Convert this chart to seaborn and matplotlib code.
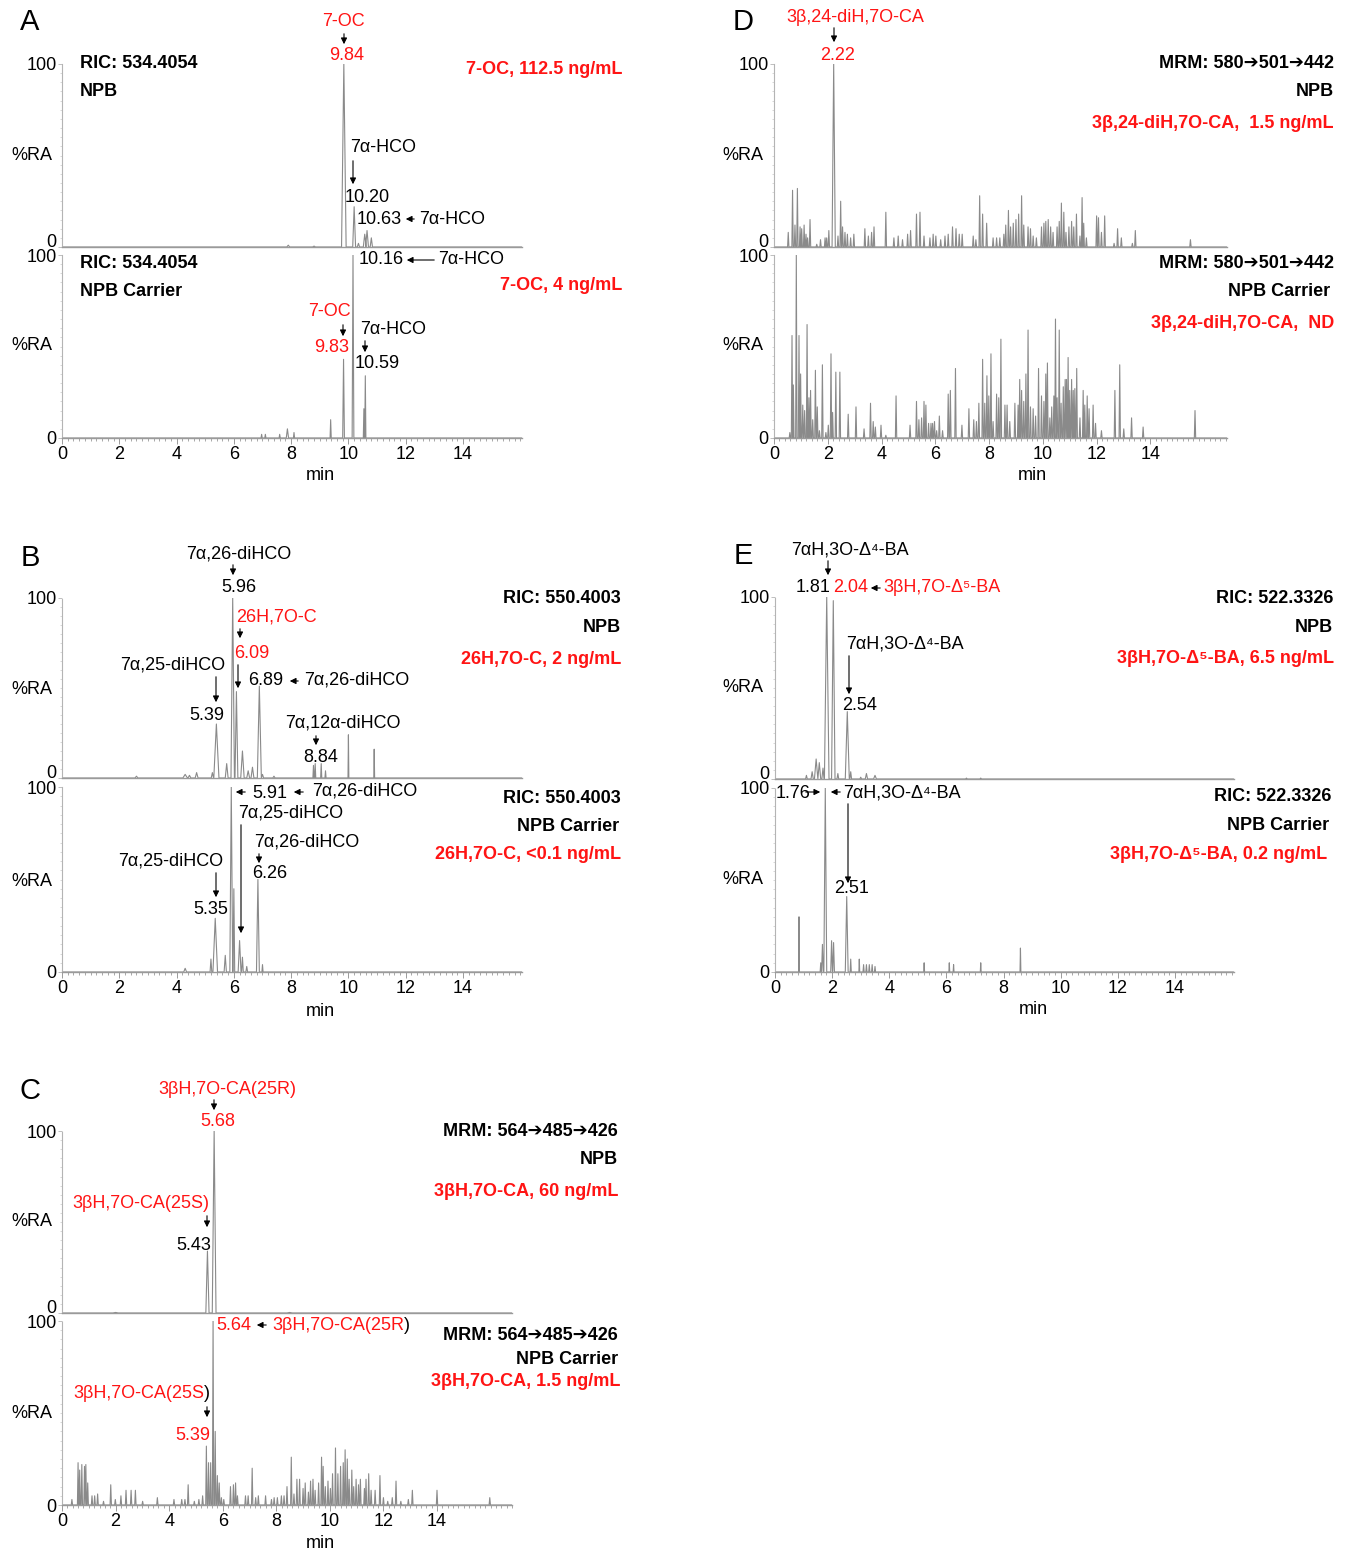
import pandas as pd
import seaborn as sns
import matplotlib.pyplot as plt
from matplotlib.patches import FancyArrowPatch
from matplotlib.ticker import MultipleLocator

W, H = 1349, 1551
RED = '#ff1414'
GREY = '#8a8a8a'
FS = 13

# peak tables: (retention time / min, %RA[, half width / min])
a_npb = [(7.9, 1, 0.05), (8.8, 0.5, 0.05), (9.84, 100, 0.08), (10.20, 22, 0.05),
         (10.35, 2, 0.04), (10.57, 7, 0.05), (10.65, 9, 0.05), (10.8, 5, 0.04)]
a_carrier = [(6.97, 2, 0.02), (7.1, 2, 0.02), (7.6, 2, 0.02), (7.87, 5, 0.04),
             (8.1, 3, 0.02), (9.38, 10, 0.02), (9.83, 43, 0.03), (10.16, 100, 0.03),
             (10.54, 16, 0.02), (10.59, 34, 0.02)]

b_npb = [(2.6, 1, 0.05), (4.3, 2, 0.08), (4.45, 1.5, 0.05), (4.7, 3, 0.05),
         (5.25, 3, 0.04), (5.39, 30, 0.09), (5.75, 8, 0.05), (5.96, 100, 0.06),
         (6.09, 48, 0.05), (6.3, 15, 0.06), (6.5, 4, 0.05), (6.65, 6, 0.05),
         (6.89, 51, 0.07), (7.0, 2, 0.04), (7.4, 1, 0.04), (8.78, 7, 0.02),
         (8.84, 8, 0.02), (9.05, 8, 0.02), (9.2, 4, 0.02), (10.0, 24, 0.015),
         (10.9, 16, 0.015)]
b_carrier = [(4.3, 2, 0.05), (5.2, 7, 0.03), (5.35, 29, 0.08), (5.7, 9, 0.04),
             (5.91, 100, 0.05), (6.0, 45, 0.03), (6.2, 17, 0.05), (6.3, 8, 0.03),
             (6.45, 3, 0.03), (6.84, 50, 0.05), (7.0, 4, 0.02)]

c_npb = [(2.0, 0.3, 0.1), (5.43, 34, 0.06), (5.68, 100, 0.07), (8.5, 0.3, 0.1)]
c_carrier = [(0.37, 3), (0.6, 23), (0.66, 19), (0.74, 22), (0.84, 21), (0.89, 22),
             (0.96, 12), (1.12, 5), (1.22, 5), (1.33, 6), (1.55, 2), (1.82, 11),
             (1.99, 3), (2.2, 5), (2.39, 8), (2.58, 8), (2.74, 8), (3.01, 2),
             (3.56, 4), (4.18, 3), (4.47, 3), (4.59, 3), (4.71, 11), (4.94, 2),
             (5.11, 3), (5.25, 5), (5.39, 32), (5.47, 23), (5.55, 23), (5.64, 100),
             (5.72, 40), (5.8, 16), (5.87, 12), (5.95, 4), (6.04, 3), (6.29, 10),
             (6.40, 11), (6.48, 12), (6.55, 5), (6.85, 5), (6.95, 5), (7.10, 20),
             (7.23, 4), (7.33, 5), (7.6, 5), (7.82, 3), (7.92, 4), (8.04, 4),
             (8.19, 5), (8.29, 5), (8.40, 10), (8.56, 26), (8.66, 6), (8.77, 14),
             (8.87, 14), (9.0, 9), (9.08, 12), (9.2, 7), (9.28, 13), (9.37, 14),
             (9.45, 8), (9.58, 12), (9.69, 26), (9.75, 21), (9.83, 10), (9.93, 13),
             (10.02, 9), (10.1, 17), (10.21, 31), (10.3, 17), (10.4, 21), (10.5, 23),
             (10.57, 30), (10.65, 25), (10.72, 14), (10.82, 19), (10.89, 10),
             (10.98, 14), (11.07, 11), (11.14, 14), (11.29, 9), (11.35, 14),
             (11.45, 17), (11.54, 8), (11.69, 8), (11.87, 16), (12.0, 4), (12.16, 2),
             (12.33, 4), (12.47, 13), (12.65, 2), (12.93, 3), (13.08, 8), (14.0, 8),
             (15.97, 4)]

d_npb = [(0.53, 8), (0.69, 31), (0.78, 12), (0.87, 32), (0.97, 11), (1.03, 10),
         (1.12, 12), (1.19, 7), (1.25, 5), (1.34, 15), (1.59, 1.5), (1.73, 4),
         (1.9, 5), (1.96, 5), (2.04, 9), (2.22, 100, 0.06), (2.38, 6), (2.48, 25),
         (2.55, 11), (2.64, 8), (2.73, 7), (2.85, 5), (2.97, 7), (3.38, 10),
         (3.51, 6), (3.63, 8), (3.72, 11), (4.16, 19), (4.46, 5), (4.62, 6),
         (4.78, 4), (4.97, 7), (5.08, 9), (5.3, 18), (5.43, 19), (5.58, 6),
         (5.8, 5), (5.92, 7), (6.02, 6), (6.2, 4), (6.36, 6), (6.48, 7),
         (6.64, 11), (6.77, 10), (6.89, 7), (7.0, 7), (7.41, 6), (7.51, 4),
         (7.65, 28), (7.76, 18), (7.91, 13), (8.15, 5), (8.28, 5), (8.4, 5),
         (8.55, 7), (8.62, 12), (8.72, 20), (8.8, 11), (8.9, 13), (9.0, 15),
         (9.1, 18), (9.21, 28), (9.29, 12), (9.45, 11), (9.54, 10), (9.64, 6),
         (9.76, 5), (9.95, 11), (10.04, 13), (10.11, 14), (10.2, 15), (10.29, 11),
         (10.38, 8), (10.53, 11), (10.61, 14), (10.69, 24), (10.78, 19), (10.86, 8),
         (10.97, 11), (11.07, 14), (11.15, 11), (11.25, 18), (11.38, 6), (11.46, 27),
         (11.52, 13), (11.62, 5), (12.0, 17), (12.07, 16), (12.18, 8), (12.3, 17),
         (12.65, 2), (12.78, 10), (12.92, 5), (13.33, 2), (13.44, 9), (15.49, 4)]
d_carrier = [(0.59, 3), (0.67, 56), (0.72, 29), (0.83, 100), (0.93, 56), (0.99, 35),
             (1.07, 18), (1.14, 15), (1.23, 62), (1.3, 22), (1.36, 26), (1.44, 10),
             (1.54, 37), (1.61, 17), (1.69, 4), (1.8, 40), (1.93, 3), (2.02, 7),
             (2.12, 46), (2.18, 14), (2.30, 36), (2.45, 36), (2.76, 13), (3.05, 17),
             (3.35, 5), (3.59, 19), (3.69, 9), (3.77, 6), (3.98, 7), (4.16, 1.5),
             (4.54, 23), (5.06, 7), (5.3, 20), (5.39, 10), (5.49, 11), (5.58, 20),
             (5.65, 18), (5.75, 8), (5.84, 8), (5.9, 8), (5.97, 9), (6.05, 4),
             (6.15, 12), (6.27, 4), (6.48, 24), (6.56, 26), (6.75, 38), (6.99, 7),
             (7.25, 16), (7.43, 10), (7.53, 9), (7.62, 19), (7.76, 43), (7.84, 19),
             (7.92, 34), (7.99, 23), (8.07, 46), (8.15, 9), (8.28, 24), (8.36, 22),
             (8.44, 54), (8.59, 18), (8.67, 18), (8.77, 9), (8.96, 19), (9.08, 18),
             (9.14, 32), (9.21, 26), (9.29, 20), (9.37, 35), (9.45, 59), (9.54, 17),
             (9.64, 16), (9.73, 12), (9.84, 38), (9.95, 23), (10.04, 20), (10.11, 35),
             (10.17, 41), (10.26, 11), (10.33, 17), (10.41, 23), (10.47, 65),
             (10.53, 22), (10.61, 59), (10.68, 19), (10.76, 28), (10.83, 32),
             (10.88, 32), (10.94, 44), (11.0, 26), (11.07, 32), (11.13, 26),
             (11.19, 27), (11.26, 38), (11.38, 11), (11.5, 26), (11.56, 18),
             (11.65, 23), (11.72, 16), (11.87, 18), (11.96, 8), (12.18, 4),
             (12.68, 26), (12.86, 40), (13.01, 5), (13.3, 11), (13.73, 6), (15.66, 15)]

e_npb = [(1.1, 2, 0.03), (1.3, 4, 0.04), (1.44, 11, 0.06), (1.55, 9, 0.05),
         (1.68, 6, 0.04), (1.81, 100, 0.08), (2.04, 98, 0.06), (2.2, 3, 0.03),
         (2.53, 37, 0.07), (2.65, 4, 0.03), (3.0, 1, 0.03), (3.2, 3, 0.04),
         (3.5, 2, 0.05), (6.7, 0.5, 0.03), (7.2, 0.5, 0.03)]
e_carrier = [(0.84, 30, 0.015), (1.6, 5, 0.02), (1.66, 15, 0.03), (1.76, 100, 0.05),
             (1.98, 17, 0.03), (2.05, 16, 0.03), (2.51, 41, 0.05), (2.65, 7, 0.02),
             (2.95, 7, 0.015), (3.1, 4, 0.02), (3.2, 4, 0.02), (3.3, 4, 0.02),
             (3.4, 4, 0.02), (3.5, 3, 0.02), (5.22, 5, 0.015), (6.1, 5, 0.015),
             (6.25, 4, 0.015), (7.2, 5, 0.015), (8.59, 13, 0.015)]

sns.set_theme(style='white')
plt.rcParams['font.family'] = ['Liberation Sans', 'DejaVu Sans']

fig = plt.figure(figsize=(W / 100, H / 100), dpi=100)


def trace(peaks, xmax, w0=0.025):
    xs, ys = [0.0], [0.0]
    for p in peaks:
        w = p[2] if len(p) > 2 else w0
        xs += [p[0] - w, p[0], p[0] + w]
        ys += [0, p[1], 0]
    xs.append(xmax)
    ys.append(0)
    return pd.DataFrame({'min': xs, 'ra': ys})


def chrom(peaks, box, xmax, lower):
    left, right, top, bottom = box
    ax = fig.add_axes([left / W, 1 - bottom / H, (right - left) / W, (bottom - top) / H])
    sns.lineplot(data=trace(peaks, xmax), x='min', y='ra', ax=ax, sort=False,
                 estimator=None, color=GREY, lw=0.8)
    ax.set_xlim(0, xmax)
    ax.set_ylim(0, 100)
    ax.set_xlabel('')
    ax.set_ylabel('')
    ax.patch.set_alpha(0)
    for s in ['top', 'right']:
        ax.spines[s].set_visible(False)
    ax.spines['left'].set_color('#b4b4b4')
    ax.spines['left'].set_linestyle((0, (1, 1)))
    ax.spines['left'].set_linewidth(0.8)
    ax.spines['bottom'].set_color('#9a9a9a')
    ax.spines['bottom'].set_linewidth(1.0)
    ax.set_yticks([0, 100])
    ax.set_yticklabels(['0', '100'])
    ax.yaxis.set_minor_locator(MultipleLocator(5))
    ax.tick_params(axis='y', which='major', left=True, length=3, width=0.6,
                   color='#b4b4b4', labelsize=FS, pad=1, labelcolor='black')
    ax.tick_params(axis='y', which='minor', left=True, length=1.5, width=0.5,
                   color='#c8c8c8')
    if lower:
        ax.set_xticks(range(0, 15, 2))
        ax.xaxis.set_minor_locator(MultipleLocator(0.2))
        ax.tick_params(axis='x', which='major', bottom=True, length=4, width=0.7,
                       color='#9a9a9a', labelsize=FS, pad=2, labelcolor='black')
        ax.tick_params(axis='x', which='minor', bottom=True, length=2.5, width=0.6,
                       color='#9a9a9a')
    else:
        ax.tick_params(axis='x', which='both', bottom=False, labelbottom=False)
        # the baseline "0" sits just above the axis, as in the original
        ax.get_yticklabels()[0].set_verticalalignment('baseline')
    return ax


def txt(x, y, s, ha='center', color='black', bold=False, size=FS):
    return fig.text(x / W, 1 - y / H, s, ha=ha, va='center', color=color,
                    fontweight='bold' if bold else 'normal', fontsize=size)


def arr(x0, y0, x1, y1):
    fig.add_artist(FancyArrowPatch((x0 / W, 1 - y0 / H), (x1 / W, 1 - y1 / H),
                                   transform=fig.transFigure, arrowstyle='-|>',
                                   mutation_scale=9, lw=0.8, color='black'))


def close_paren(ax, t):
    ax.annotate(')', xy=(1, 0.5), xycoords=t, ha='left', va='center',
                fontsize=FS, color='black')


# panel A
chrom(a_npb, (62, 521.7, 64, 247), 16.05, False)
ax = chrom(a_carrier, (62, 521.7, 255, 438), 16.05, True)
txt(30, 22, 'A', size=21)
txt(32, 155, '%RA')
txt(32, 346, '%RA')
txt(320, 476, 'min')
txt(80, 64, 'RIC: 534.4054', ha='left', bold=True)
txt(80, 92, 'NPB', ha='left', bold=True)
txt(622, 70, '7-OC, 112.5 ng/mL', ha='right', bold=True, color=RED)
txt(80, 263, 'RIC: 534.4054', ha='left', bold=True)
txt(80, 291, 'NPB Carrier', ha='left', bold=True)
txt(622, 285, '7-OC, 4 ng/mL', ha='right', bold=True, color=RED)
txt(343, 22, '7-OC', color=RED)
arr(344, 31, 344, 47)
txt(347, 55, '9.84', color=RED)
txt(383, 148, '7α-HCO')
arr(353, 158, 353, 187)
txt(367, 198, '10.20')
txt(379, 220, '10.63')
arr(417, 219, 403, 219)
txt(419, 219, '7α-HCO', ha='left')
txt(381, 260, '10.16')
arr(437, 260, 404, 260)
txt(438, 260, '7α-HCO', ha='left')
txt(329, 312, '7-OC', color=RED)
arr(343, 322, 343, 339)
txt(332, 348, '9.83', color=RED)
txt(393, 329, '7α-HCO')
arr(365, 338, 365, 355)
txt(377, 364, '10.59')

# panel B
chrom(b_npb, (62, 521.7, 598, 778), 16.05, False)
chrom(b_carrier, (62, 521.7, 787, 972), 16.05, True)
txt(30, 558, 'B', size=21)
txt(32, 689, '%RA')
txt(32, 881, '%RA')
txt(320, 1011, 'min')
txt(239, 554, '7α,26-diHCO')
arr(233, 562, 233, 578)
txt(239, 587, '5.96')
txt(276, 617, '26H,7O-C', color=RED)
arr(240, 626, 240, 641)
txt(252, 653, '6.09', color=RED)
arr(238, 662, 238, 691)
txt(173, 665, '7α,25-diHCO')
arr(216, 674, 216, 705)
txt(207, 716, '5.39')
txt(266, 681, '6.89')
arr(301, 681, 287, 681)
txt(304, 680, '7α,26-diHCO', ha='left')
txt(343, 723, '7α,12α-diHCO')
arr(316, 733, 316, 748)
txt(321, 758, '8.84')
txt(621, 599, 'RIC: 550.4003', ha='right', bold=True)
txt(621, 627, 'NPB', ha='right', bold=True)
txt(621, 659, '26H,7O-C, 2 ng/mL', ha='right', bold=True, color=RED)
arr(248, 792, 233, 792)
txt(252, 793, '5.91', ha='left')
arr(306, 792, 291, 792)
txt(312, 791, '7α,26-diHCO', ha='left')
txt(291, 813, '7α,25-diHCO')
arr(241, 822, 241, 936)
txt(307, 842, '7α,26-diHCO')
arr(259, 851, 259, 866)
txt(270, 873, '6.26')
txt(171, 861, '7α,25-diHCO')
arr(216, 870, 216, 900)
txt(211, 909, '5.35')
txt(621, 798, 'RIC: 550.4003', ha='right', bold=True)
txt(619, 826, 'NPB Carrier', ha='right', bold=True)
txt(621, 854, '26H,7O-C, <0.1 ng/mL', ha='right', bold=True, color=RED)

# panel C
chrom(c_npb, (62, 512, 1131, 1313), 16.8, False)
ax = chrom(c_carrier, (62, 512, 1321, 1505), 16.8, True)
txt(30, 1091, 'C', size=21)
txt(32, 1222, '%RA')
txt(32, 1413, '%RA')
txt(320, 1543, 'min')
txt(227, 1089, '3βH,7O-CA(25R)', color=RED)
arr(214, 1097, 214, 1113)
txt(218, 1122, '5.68', color=RED)
txt(141, 1204, '3βH,7O-CA(25S)', color=RED)
arr(207, 1213, 207, 1230)
txt(194, 1245, '5.43')
txt(618, 1132, 'MRM: 564➔485➔426', ha='right', bold=True)
txt(618, 1160, 'NPB', ha='right', bold=True)
txt(618, 1192, '3βH,7O-CA, 60 ng/mL', ha='right', bold=True, color=RED)
txt(216, 1326, '5.64', ha='left', color=RED)
arr(269, 1325, 254, 1325)
close_paren(ax, txt(272, 1326, '3βH,7O-CA(25R', ha='left', color=RED))
close_paren(ax, txt(73, 1394, '3βH,7O-CA(25S', ha='left', color=RED))
arr(207, 1404, 207, 1420)
txt(193, 1435, '5.39', color=RED)
txt(618, 1335, 'MRM: 564➔485➔426', ha='right', bold=True)
txt(618, 1359, 'NPB Carrier', ha='right', bold=True)
txt(620, 1382, '3βH,7O-CA, 1.5 ng/mL', ha='right', bold=True, color=RED)

# panel D
chrom(d_npb, (774, 1227, 64, 247), 16.85, False)
chrom(d_carrier, (774, 1227, 255, 438), 16.85, True)
txt(743, 22, 'D', size=21)
txt(743, 155, '%RA')
txt(743, 346, '%RA')
txt(1032, 476, 'min')
txt(855, 17, '3β,24-diH,7O-CA', color=RED)
arr(834, 25, 834, 45)
txt(838, 55, '2.22', color=RED)
txt(1334, 64, 'MRM: 580➔501➔442', ha='right', bold=True)
txt(1334, 92, 'NPB', ha='right', bold=True)
txt(1334, 124, '3β,24-diH,7O-CA,  1.5 ng/mL', ha='right', bold=True, color=RED)
txt(1334, 263, 'MRM: 580➔501➔442', ha='right', bold=True)
txt(1330, 291, 'NPB Carrier', ha='right', bold=True)
txt(1334, 324, '3β,24-diH,7O-CA,  ND', ha='right', bold=True, color=RED)

# panel E
chrom(e_npb, (775, 1233.6, 597, 779), 16.05, False)
chrom(e_carrier, (775, 1233.6, 788, 972), 16.05, True)
txt(743, 556, 'E', size=21)
txt(743, 687, '%RA')
txt(743, 879, '%RA')
txt(1033, 1010, 'min')
txt(850, 550, '7αH,3O-Δ⁴-BA')
arr(828, 558, 828, 578)
txt(813, 587, '1.81')
txt(833, 588, '2.04', ha='left', color=RED)
arr(883, 588, 868, 588)
txt(883, 587, '3βH,7O-Δ⁵-BA', ha='left', color=RED)
txt(905, 644, '7αH,3O-Δ⁴-BA')
arr(849, 653, 849, 697)
txt(860, 705, '2.54')
txt(1333, 599, 'RIC: 522.3326', ha='right', bold=True)
txt(1333, 627, 'NPB', ha='right', bold=True)
txt(1334, 658, '3βH,7O-Δ⁵-BA, 6.5 ng/mL', ha='right', bold=True, color=RED)
txt(776, 793, '1.76', ha='left')
arr(803, 792, 823, 792)
arr(843, 792, 828, 792)
txt(843, 793, '7αH,3O-Δ⁴-BA', ha='left')
arr(848, 801, 848, 886)
txt(852, 889, '2.51')
txt(1331, 796, 'RIC: 522.3326', ha='right', bold=True)
txt(1329, 825, 'NPB Carrier', ha='right', bold=True)
txt(1327, 854, '3βH,7O-Δ⁵-BA, 0.2 ng/mL', ha='right', bold=True, color=RED)

fig.savefig('out.png', dpi=100)
